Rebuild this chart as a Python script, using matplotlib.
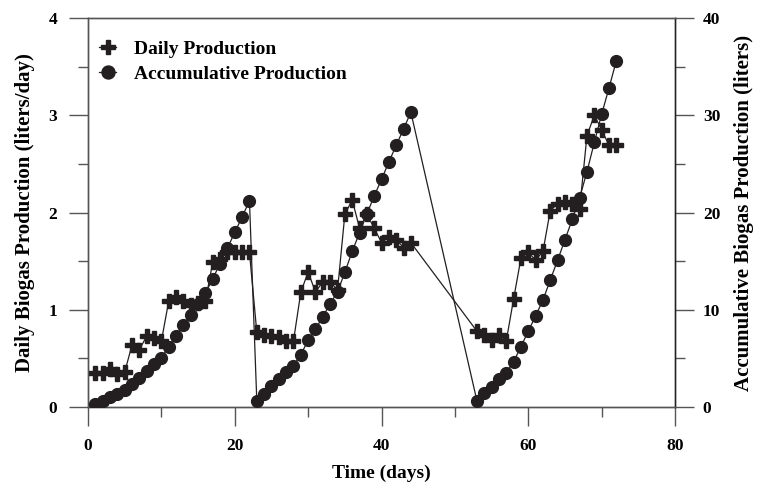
import matplotlib
matplotlib.use("Agg")
import matplotlib.pyplot as plt
from matplotlib.ticker import MultipleLocator

# days with measurements (three runs, with gaps between them)
days = list(range(1, 45)) + list(range(53, 73))

# daily biogas production (liters/day)
daily = [0.35, 0.35, 0.39, 0.34, 0.36, 0.64, 0.59, 0.73, 0.71, 0.68,
         1.09, 1.13, 1.09, 1.05, 1.07, 1.09, 1.49, 1.52, 1.59, 1.59, 1.59, 1.59,
         0.77, 0.74, 0.73, 0.72, 0.68, 0.68, 1.18, 1.39, 1.18, 1.29, 1.29,
         1.20, 1.98, 2.13, 1.84, 1.98, 1.84, 1.69, 1.75, 1.72, 1.64, 1.69,
         0.78, 0.74, 0.69, 0.74, 0.68, 1.11, 1.53, 1.59, 1.51, 1.60,
         2.02, 2.09, 2.11, 2.09, 2.04, 2.79, 3.00, 2.85, 2.69, 2.69]

# accumulative biogas production (liters)
accum = [0.3, 0.65, 1.0, 1.35, 1.7, 2.35, 2.95, 3.7, 4.4, 5.07,
         6.2, 7.35, 8.45, 9.5, 10.6, 11.7, 13.2, 14.75, 16.35, 17.95, 19.55, 21.2,
         0.65, 1.38, 2.12, 2.85, 3.55, 4.25, 5.4, 6.85, 8.0, 9.3, 10.6,
         11.85, 13.85, 16.0, 17.9, 19.85, 21.7, 23.4, 25.2, 26.9, 28.6, 30.3,
         0.65, 1.4, 2.1, 2.85, 3.53, 4.66, 6.2, 7.8, 9.36, 11.0,
         13.06, 15.1, 17.2, 19.3, 21.5, 24.2, 27.2, 30.1, 32.8, 35.6]

plt.rcParams["font.family"] = ["Liberation Serif", "DejaVu Serif"]
plt.rcParams["font.weight"] = "bold"
ink = "#231f20"
grey = "#555555"

fig = plt.figure(figsize=(7.57, 4.93), dpi=100)
ax = fig.add_axes([0.1163, 0.1744, 0.7754, 0.7891])
ax2 = ax.twinx()

l1, = ax.plot(days, daily, color=ink, lw=0.9, marker="P", ms=9.5,
              mec=ink, mfc=ink, zorder=3)
l2, = ax2.plot(days, accum, color=ink, lw=0.9, marker="o", ms=8.5,
               mec=ink, mfc=ink, zorder=3)

ax.set_xlim(0, 80)
ax.set_ylim(0, 4)
ax2.set_ylim(0, 40)

ax.xaxis.set_major_locator(MultipleLocator(20))
ax.xaxis.set_minor_locator(MultipleLocator(10))
ax.yaxis.set_major_locator(MultipleLocator(1))
ax.yaxis.set_minor_locator(MultipleLocator(0.5))
ax2.yaxis.set_major_locator(MultipleLocator(10))
ax2.yaxis.set_minor_locator(MultipleLocator(5))

ax.tick_params(axis="both", which="major", direction="out", length=14,
               width=1, labelsize=12.5, color=grey, pad=8,
               top=False, right=False)
ax.tick_params(axis="both", which="minor", direction="out", length=7,
               width=1, color=grey, top=False, right=False)
ax2.tick_params(axis="y", which="major", direction="out", length=14,
                width=1, labelsize=12.5, color=grey, pad=6,
                left=False, right=True)
ax2.tick_params(axis="y", which="minor", direction="out", length=7,
                width=1, color=grey, left=False, right=True)

for a in (ax, ax2):
    for s in a.spines.values():
        s.set_linewidth(1)
        s.set_color(grey)
ax2.spines["right"].set_color(ink)

ax.set_xlabel("Time (days)", fontsize=14, fontweight="bold", labelpad=8)
ax.set_ylabel("Daily Biogas Production (liters/day)", fontsize=15,
              fontweight="bold", labelpad=10)
ax2.set_ylabel("Accumulative Biogas Production (liters)", fontsize=15,
               fontweight="bold", labelpad=10)

ax.legend([l1, l2], ["Daily Production", "Accumulative Production"],
          loc="upper left", bbox_to_anchor=(0.005, 0.962), borderaxespad=0,
          frameon=False, handlelength=0.9, handletextpad=0.9,
          labelspacing=0.35, markerscale=1.1,
          prop={"weight": "bold", "size": 14})

fig.savefig("out.png", dpi=100)
